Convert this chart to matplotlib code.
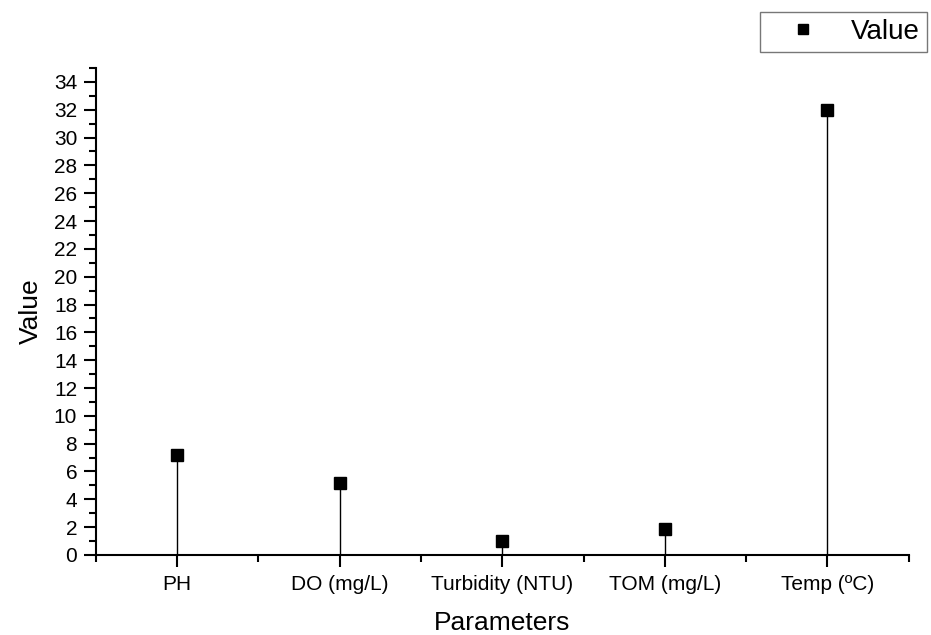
import numpy as np
import matplotlib.pyplot as plt
from matplotlib.ticker import MultipleLocator

plt.rcParams['font.family'] = ['Liberation Sans', 'DejaVu Sans']

# Water quality parameters
parameters = ['PH', 'DO (mg/L)', 'Turbidity (NTU)', 'TOM (mg/L)', 'Temp (ºC)']
values = [7.2, 5.2, 1.0, 1.9, 32.0]
x_values = np.arange(1, len(parameters) + 1)

fig = plt.figure(figsize=(9.31, 6.35), dpi=100)
ax = fig.add_axes([0.103, 0.126, 0.873, 0.767])

# Drop lines from each point to zero
ax.vlines(x_values, 0, values, color='black', linewidth=1)
ax.plot(x_values, values, linestyle='none', marker='s', markersize=9,
        color='black', label='Value')

ax.set_xlim(0.5, 5.5)
ax.set_ylim(0, 35)
ax.set_xticks(x_values)
ax.set_xticklabels(parameters, fontsize=15)
ax.xaxis.set_minor_locator(MultipleLocator(1.0, offset=0.5))
ax.yaxis.set_major_locator(MultipleLocator(2))
ax.yaxis.set_minor_locator(MultipleLocator(1))
ax.tick_params(axis='y', labelsize=15, pad=5)
ax.tick_params(axis='x', pad=6)
ax.tick_params(which='major', direction='out', length=8.5, width=1.5)
ax.tick_params(which='minor', direction='out', length=5, width=1.5)

for side in ['top', 'right']:
    ax.spines[side].set_visible(False)
for side in ['left', 'bottom']:
    ax.spines[side].set_linewidth(1.5)

ax.set_xlabel('Parameters', fontsize=19, labelpad=12)
ax.set_ylabel('Value', fontsize=19, labelpad=8)

leg = fig.legend(loc='upper left', bbox_to_anchor=(0.816, 0.981), fontsize=20,
                 frameon=True, fancybox=False, edgecolor='#555555',
                 handlelength=2.6, handletextpad=0.45, borderpad=0.25,
                 borderaxespad=0, markerscale=0.85)
leg.get_frame().set_linewidth(1.0)

plt.savefig('out.png')
plt.close()
